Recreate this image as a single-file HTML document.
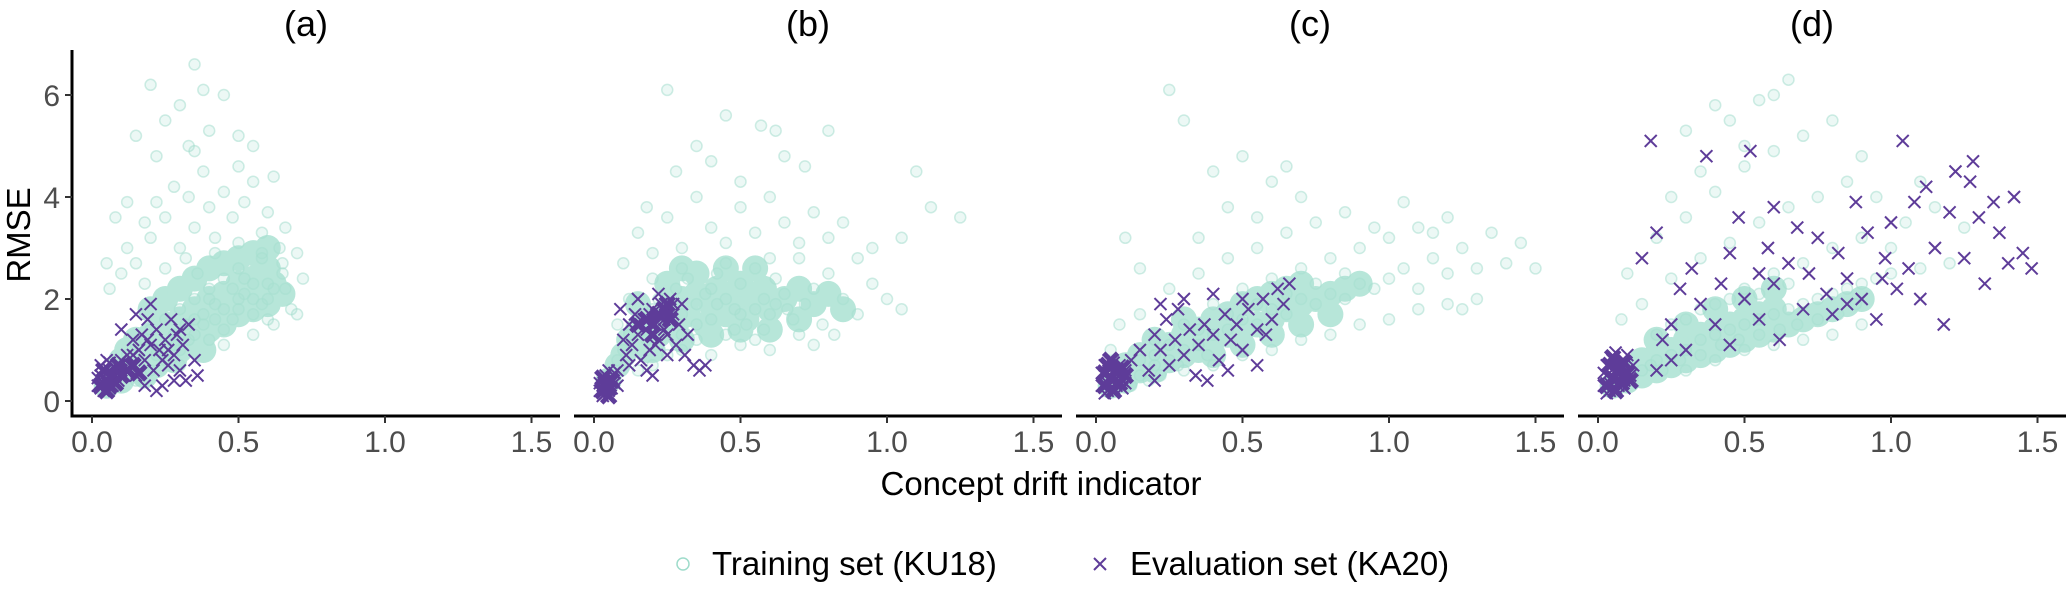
<!DOCTYPE html>
<html><head><meta charset="utf-8"><style>
body{margin:0;background:#fff;}
svg{display:block;font-family:"Liberation Sans",sans-serif;}
</style></head><body>
<svg id="chart" width="2067" height="614" viewBox="0 0 2067 614" xmlns="http://www.w3.org/2000/svg"></svg>
<script>
const panelTitles = ["(a)","(b)","(c)","(d)"];
const xTicks = [0.0,0.5,1.0,1.5];
const xTickLabels = ["0.0","0.5","1.0","1.5"];
const yTicks = [0,2,4,6];
const yTickLabels = ["0","2","4","6"];

const trainA = [.05,.3,.08,.5,.1,.7,.12,.9,.15,1.1,.18,1.2,.2,1.4,.22,1.0,.25,1.6,.28,1.3,.3,1.8,.32,1.5,.35,2.0,.38,1.7,.4,2.2,.42,1.9,.45,2.4,.48,1.6,.5,2.6,.52,2.1,.55,2.3,.58,2.8,.6,2.0,.62,1.5,.65,2.5,.4,1.2,.45,1.4,.5,1.8,.55,1.7,.35,1.3,.3,1.0,.25,.8,.2,.6,.15,.4,.3,.7,.45,1.1,.55,1.3,.6,1.6,.68,1.8,.66,2.2,
.1,2.5,.12,3.0,.15,2.7,.18,3.5,.2,3.2,.22,3.9,.25,3.6,.28,4.2,.3,3.0,.33,4.0,.35,3.4,.38,4.5,.4,3.8,.42,3.2,.45,4.1,.48,3.6,.5,4.6,.52,3.9,.55,4.3,.58,3.3,.6,3.7,.62,4.4,.64,3.0,.66,3.4,.18,2.3,.25,2.6,.32,2.8,.36,2.5,.42,2.9,.5,3.1,.58,2.9,.65,2.7,.7,2.9,
.15,5.2,.2,6.2,.25,5.5,.3,5.8,.33,5.0,.35,6.6,.38,6.1,.4,5.3,.45,6.0,.5,5.2,.55,5.0,.35,4.9,.22,4.8,.12,3.9,.08,3.6,.05,2.7,.06,2.2,.72,2.4,.7,1.7,
.4,2.0,.45,1.8,.5,2.0,.55,2.0,.6,2.3,.35,1.6,.42,1.6,.52,2.4,.62,2.2,.48,2.2,.38,1.5,.58,1.9,.28,1.1,.33,1.2,.22,.9];
const coreA = [.05,.3,.08,.5,.1,.8,.12,1.0,.15,.6,.15,1.2,.18,.9,.2,1.3,.22,.7,.25,1.1,.25,1.5,.28,1.3,.3,1.6,.3,1.0,.33,1.4,.35,1.8,.35,1.2,.38,1.6,.4,2.0,.4,1.4,.42,1.8,.45,2.1,.45,1.5,.48,1.9,.5,2.3,.5,1.7,.52,2.0,.55,2.4,.55,1.8,.58,2.2,.6,2.6,.6,1.9,.62,2.3,.65,2.1,.2,1.8,.25,2.0,.3,2.2,.35,2.4,.4,2.6,.45,2.7,.5,2.8,.55,2.9,.6,3.0,.1,.4,.18,.5,.28,.8,.38,1.0];
const evalA = [.02,.3,.03,.5,.04,.2,.05,.4,.06,.6,.07,.3,.08,.5,.03,.7,.05,.8,.09,.4,.1,.6,.04,.35,.06,.25,.07,.45,.02,.45,.03,.25,.05,.55,.08,.65,.06,.75,.1,.8,.11,.5,
.1,1.4,.12,.9,.14,1.2,.15,.5,.16,1.0,.17,1.3,.18,.8,.19,1.6,.2,1.1,.21,.6,.22,1.4,.23,1.0,.24,.3,.25,1.2,.26,.7,.27,1.6,.28,.9,.29,1.3,.3,.6,.31,1.1,.32,.4,.33,1.5,.35,.8,.36,.5,.13,.7,.15,1.7,.2,1.9,.18,.3,.22,.2,.28,.4,.3,1.4,.14,.9,.19,1.2,.24,.8,.26,1.0];
const blobA = [.03,.3,.05,.4,.07,.5,.04,.6,.06,.3,.08,.35,.1,.5,.12,.6,.05,.2,.09,.7,.14,.7,.16,.55];

const trainB = [.05,.5,.08,.8,.1,1.0,.12,1.3,.15,1.6,.18,1.2,.2,1.8,.22,2.0,.25,1.5,.28,2.2,.3,1.7,.32,2.4,.35,1.9,.38,2.1,.4,1.6,.42,2.5,.45,2.0,.48,1.8,.5,2.3,.52,1.5,.55,2.6,.58,2.0,.6,1.7,.62,2.4,.65,2.1,.68,1.6,.7,2.8,.72,1.9,.75,2.2,.78,1.5,.8,2.5,.85,2.0,.9,1.7,.95,2.3,1.0,2.0,1.05,1.8,.3,1.0,.35,1.2,.4,.9,.45,1.3,.5,1.1,.55,1.2,.6,1.0,.2,.7,.25,.9,.15,.6,.7,1.3,.75,1.1,.82,1.3,
.1,2.7,.15,3.3,.2,2.9,.25,3.6,.3,3.0,.35,4.0,.4,3.4,.45,3.1,.5,3.8,.55,3.3,.6,4.0,.65,3.5,.7,3.1,.75,3.7,.8,3.2,.85,3.5,.9,2.8,.95,3.0,1.05,3.2,1.15,3.8,1.25,3.6,.18,3.8,.28,4.5,.4,4.7,.5,4.3,.62,5.3,.72,4.6,.8,5.3,.35,5.0,.45,5.6,.25,6.1,.57,5.4,.65,4.8,1.1,4.5,.3,2.6,.45,2.7,.6,2.8,.2,2.4,.12,2.0,.08,1.5,
.35,1.5,.42,1.9,.48,1.4,.55,1.8,.62,1.9,.4,2.2,.5,1.7,.58,1.4,.66,1.8,.3,1.3];
const coreB = [.05,.4,.08,.7,.1,.9,.12,1.2,.15,1.4,.18,1.0,.2,1.6,.22,1.3,.25,1.8,.28,1.5,.3,2.0,.32,1.7,.35,2.1,.38,1.5,.4,1.9,.42,2.2,.45,1.7,.48,2.0,.5,2.3,.52,1.6,.55,2.0,.58,2.2,.6,1.8,.65,2.0,.7,2.2,.75,1.9,.8,2.1,.3,1.2,.4,1.3,.5,1.4,.6,1.4,.35,2.5,.45,2.6,.55,2.6,.25,2.3,.15,1.9,.7,1.6,.85,1.8,.2,1.0,.3,2.6];
const evalB = [.02,.2,.03,.3,.04,.15,.05,.4,.06,.25,.03,.45,.07,.35,.04,.5,.02,.35,.05,.2,.06,.45,.03,.1,.07,.55,.08,.3,.05,.6,
.08,.6,.1,1.2,.11,.9,.12,1.5,.13,1.1,.14,1.7,.15,1.3,.16,.8,.17,1.6,.18,1.4,.19,1.0,.2,1.8,.21,1.5,.22,1.2,.23,1.9,.24,1.6,.25,1.3,.26,2.0,.27,1.7,.28,1.1,.29,1.5,.3,1.9,.31,.9,.32,1.3,.34,.7,.36,.6,.38,.7,.09,1.8,.12,.7,.2,.5,.25,.9,.15,2.0,.27,1.9,.22,2.1,.18,.6,.16,1.5,.19,1.7,.24,1.4,.21,1.1];
const blobB = [.03,.2,.04,.35,.05,.25,.06,.4,.03,.45,.05,.1,.18,1.6,.2,1.5,.22,1.7,.24,1.8,.26,1.6,.2,1.3,.15,1.5,.25,1.9];

const trainC = [.05,.3,.1,.4,.15,.5,.2,.7,.25,.8,.3,1.0,.35,1.1,.4,1.3,.45,1.4,.5,1.6,.55,1.5,.6,1.8,.65,1.7,.7,2.0,.75,1.9,.8,2.1,.85,2.0,.9,2.3,.95,2.2,1.0,2.4,1.05,2.6,1.1,2.2,1.15,2.8,1.2,2.5,1.25,3.0,1.3,2.6,1.4,2.7,1.5,2.6,.2,1.2,.3,1.5,.4,1.9,.5,2.2,.6,2.4,.7,2.6,.8,2.8,.9,3.0,1.0,3.2,1.1,3.4,1.2,3.6,.15,1.7,.25,2.2,.35,2.5,.45,2.8,.55,3.0,.65,3.3,.75,3.5,.85,3.7,.95,3.4,1.05,3.9,1.15,3.3,.3,.6,.4,.7,.5,.9,.6,1.0,.7,1.2,.8,1.3,.9,1.5,1.0,1.6,1.1,1.8,1.2,1.9,1.3,2.0,.55,3.6,.6,4.3,.7,4.0,.45,3.8,.35,3.2,.4,4.5,.5,4.8,.3,5.5,.25,6.1,.65,4.6,.15,2.6,.1,3.2,.08,1.5,.05,1.0,1.35,3.3,1.45,3.1,1.25,1.8,
.1,.6,.15,.8,.2,.9,.25,1.1,.35,1.4,.45,1.7,.55,1.9,.65,2.1,.75,2.3,.85,2.5,.12,.3,.18,.4,.22,.5,.28,.7,.38,.9];
const coreC = [.05,.3,.1,.4,.1,.7,.15,.6,.2,.6,.2,.9,.25,.8,.25,1.1,.3,.9,.3,1.3,.35,1.0,.35,1.4,.4,1.2,.4,1.6,.45,1.3,.45,1.7,.5,1.4,.5,1.9,.55,1.5,.55,2.0,.6,1.6,.6,2.1,.65,1.8,.65,2.2,.7,1.9,.7,2.3,.75,2.0,.8,2.1,.85,2.2,.9,2.3,.2,1.2,.3,1.6,.15,.9,.4,.9,.5,1.1,.6,1.3,.7,1.5,.8,1.7];
const evalC = [.02,.3,.03,.5,.04,.2,.05,.4,.06,.6,.07,.3,.08,.5,.03,.7,.05,.8,.09,.4,.1,.6,.04,.35,.06,.25,.07,.45,.02,.55,.08,.7,.09,.25,.1,.35,.03,.15,.06,.75,
.12,.8,.15,1.0,.18,.6,.2,1.3,.22,1.0,.24,1.6,.25,.7,.27,1.2,.3,.9,.32,1.4,.34,.5,.35,1.1,.37,1.5,.4,1.3,.42,.8,.44,1.7,.46,1.2,.48,1.5,.5,1.0,.52,1.8,.55,1.4,.57,2.0,.6,1.6,.62,2.2,.64,1.9,.66,2.3,.3,2.0,.28,1.8,.45,.6,.38,.4,.55,.7,.5,2.0,.58,1.3,.4,2.1,.22,1.9,.2,.4];
const blobC = [.03,.3,.05,.45,.07,.6,.04,.7,.06,.2,.08,.35,.1,.5,.05,.8,.09,.65,.03,.55];

const trainD = [.05,.3,.1,.4,.15,.6,.2,.8,.25,.9,.3,1.0,.35,1.2,.4,1.3,.45,1.4,.5,1.5,.55,1.6,.6,1.7,.65,1.8,.7,1.9,.75,2.0,.8,2.1,.85,2.2,.9,2.3,.95,2.4,1.0,2.5,1.1,2.6,1.2,2.7,.3,.6,.4,.8,.5,1.0,.6,1.1,.7,1.2,.8,1.3,.9,1.5,.2,1.3,.3,1.6,.4,1.9,.5,2.2,.6,2.5,.7,2.7,.8,3.0,.9,3.2,1.0,3.0,.15,1.9,.25,2.4,.35,2.8,.45,3.1,.55,3.5,.65,3.8,.75,4.0,.85,4.3,.95,4.0,1.05,3.5,.2,3.2,.3,3.6,.4,4.1,.5,4.6,.6,4.9,.7,5.2,.45,5.5,.55,5.9,.6,6.0,.65,6.3,.5,5.0,.35,4.5,.25,4.0,.1,2.5,.08,1.6,.8,5.5,.9,4.8,1.1,4.3,1.15,3.8,1.25,3.4,.3,5.3,.4,5.8,
.12,.5,.18,.7,.22,.6,.28,.8,.35,.9,.42,1.1,.48,1.2,.55,1.3,.62,1.4,.68,1.5,.75,1.6,.82,1.7,.88,1.9,.25,1.5,.35,1.8,.45,2.0,.55,2.1,.65,2.3];
const coreD = [.05,.3,.1,.4,.1,.6,.15,.5,.15,.8,.2,.6,.2,.9,.25,.7,.25,1.0,.3,.8,.3,1.2,.35,.9,.35,1.3,.4,1.0,.4,1.4,.45,1.1,.45,1.5,.5,1.2,.5,1.6,.55,1.3,.55,1.7,.6,1.4,.6,1.8,.65,1.5,.7,1.6,.75,1.7,.8,1.8,.85,1.9,.9,2.0,.3,1.5,.4,1.8,.5,2.0,.6,2.2,.2,1.2];
const evalD = [.02,.3,.03,.5,.04,.2,.05,.4,.06,.6,.07,.3,.08,.5,.03,.7,.05,.8,.09,.4,.1,.6,.04,.35,.06,.25,.07,.45,.02,.55,.08,.7,.09,.25,.1,.9,.11,.5,.12,.7,.03,.15,.06,.95,
.15,2.8,.18,5.1,.2,3.3,.22,1.2,.25,1.5,.28,2.2,.3,1.0,.32,2.6,.35,1.9,.37,4.8,.4,1.5,.42,2.3,.45,1.1,.48,3.6,.5,2.0,.52,4.9,.55,1.6,.58,3.0,.6,2.3,.62,1.2,.65,2.7,.68,3.4,.7,1.8,.72,2.5,.75,3.2,.78,2.1,.8,1.7,.82,2.9,.85,2.4,.88,3.9,.9,2.0,.92,3.3,.95,1.6,.98,2.8,1.0,3.5,1.02,2.2,1.04,5.1,1.06,2.6,1.08,3.9,1.1,2.0,1.12,4.2,1.15,3.0,1.18,1.5,1.2,3.7,1.22,4.5,1.25,2.8,1.27,4.3,1.28,4.7,1.3,3.6,1.32,2.3,1.35,3.9,1.37,3.3,1.4,2.7,1.42,4.0,1.45,2.9,1.48,2.6,.97,2.4,.85,1.9,.6,3.8,.45,2.9,.55,2.5,.2,.6,.25,.8];
const blobD = [.03,.3,.05,.45,.07,.6,.04,.7,.06,.2,.08,.35,.1,.55,.05,.85,.09,.75,.11,.4];

const trainSets = [trainA, trainB, trainC, trainD];
const coreSets = [coreA, coreB, coreC, coreD];
const evalSets = [evalA, evalB, evalC, evalD];
const blobSets = [blobA, blobB, blobC, blobD];

const NS = "http://www.w3.org/2000/svg";
const svg = document.getElementById("chart");
const PANEL_LEFT = 72, PANEL_STEP = 502, PANEL_W = 488;
const AXIS_TOP = 50, AXIS_Y = 416;
const X_OFF = 20, X_UNIT = 293;
const Y0 = 401, Y_UNIT = 51;
function xScale(p, v){ return PANEL_LEFT + p*PANEL_STEP + X_OFF + v*X_UNIT; }
function yScale(v){ return Y0 - v*Y_UNIT; }
function mk(tag, attrs, parent){
  const e = document.createElementNS(NS, tag);
  for (const k in attrs) e.setAttribute(k, attrs[k]);
  (parent||svg).appendChild(e);
  return e;
}
function cross(x, y, s, w, parent){
  return mk("path", {d:`M${x-s},${y-s}L${x+s},${y+s}M${x-s},${y+s}L${x+s},${y-s}`, stroke:"#5e3c99", "stroke-width":w, fill:"none"}, parent);
}

for (let p = 0; p < 4; p++){
  const g = mk("g", {});
  
  
  const left = PANEL_LEFT + p*PANEL_STEP;
  const t = mk("text", {x: left + PANEL_W/2 - 10, y: 36, "text-anchor":"middle", "font-size":"36", fill:"#000"}, g);
  t.textContent = panelTitles[p];
  
  

  const tg = mk("g", {}, g);
  
  
  const tr = trainSets[p];
  for (let i = 0; i < tr.length; i += 2){
    const c = mk("circle", {cx: xScale(p, tr[i]), cy: yScale(tr[i+1]), r: 5.5, fill:"#9fdccb", "fill-opacity":"0.2", stroke:"#9fdccb", "stroke-opacity":"0.5", "stroke-width":"1.5"}, tg);
    
    
  }

  const cg = mk("g", {opacity:"0.8"}, g);
  
  
  const co = coreSets[p];
  for (let i = 0; i < co.length; i += 2){
    const c = mk("circle", {cx: xScale(p, co[i]), cy: yScale(co[i+1]), r: 13, fill:"#a6e0d0"}, cg);
    
    
  }

  const eg = mk("g", {}, g);
  
  
  const ev = evalSets[p];
  for (let i = 0; i < ev.length; i += 2){
    const m = cross(xScale(p, ev[i]), yScale(ev[i+1]), 6, 2, eg);
    
    
  }
  const bl = blobSets[p];
  for (let i = 0; i < bl.length; i += 2){
    const m = cross(xScale(p, bl[i]), yScale(bl[i+1]), 7, 5, eg);
    
    
  }

  const xa = mk("line", {x1:left, x2:left+PANEL_W, y1:AXIS_Y, y2:AXIS_Y, stroke:"#000", "stroke-width":"3"}, g);
  
  
  for (let k = 0; k < xTicks.length; k++){
    const x = xScale(p, xTicks[k]);
    const tk = mk("line", {x1:x, x2:x, y1:AXIS_Y, y2:AXIS_Y+7, stroke:"#333", "stroke-width":"2"}, g);
    
    
    const tl = mk("text", {x:x, y:452, "text-anchor":"middle", "font-size":"30", fill:"#4d4d4d"}, g);
    tl.textContent = xTickLabels[k];
    
    
  }
}

const ya = mk("line", {x1:PANEL_LEFT, x2:PANEL_LEFT, y1:AXIS_TOP, y2:AXIS_Y+1.5, stroke:"#000", "stroke-width":"3"});


for (let k = 0; k < yTicks.length; k++){
  const y = yScale(yTicks[k]);
  const tk = mk("line", {x1:PANEL_LEFT-7, x2:PANEL_LEFT, y1:y, y2:y, stroke:"#333", "stroke-width":"2"});
  
  
  const tl = mk("text", {x:PANEL_LEFT-12, y:y+11, "text-anchor":"end", "font-size":"30", fill:"#4d4d4d"});
  tl.textContent = yTickLabels[k];
  
  
}
const yt = mk("text", {x:0, y:0, transform:"translate(30,235) rotate(-90)", "text-anchor":"middle", "font-size":"33", fill:"#000"});
yt.textContent = "RMSE";


const xt = mk("text", {x:1041, y:495, "text-anchor":"middle", "font-size":"33", fill:"#000"});
xt.textContent = "Concept drift indicator";



const lg = mk("g", {});


const l1 = mk("g", {}, lg);


mk("circle", {cx:683, cy:564, r:6, fill:"none", stroke:"#9fdccb", "stroke-width":"1.5"}, l1);
const lt1 = mk("text", {x:712, y:575, "font-size":"33", fill:"#000"}, l1);
lt1.textContent = "Training set (KU18)";
const l2 = mk("g", {}, lg);


mk("path", {d:"M1094,558L1106,570M1094,570L1106,558", stroke:"#5e3c99", "stroke-width":"2"}, l2);
const lt2 = mk("text", {x:1130, y:575, "font-size":"33", fill:"#000"}, l2);
lt2.textContent = "Evaluation set (KA20)";
</script>
</body></html>
